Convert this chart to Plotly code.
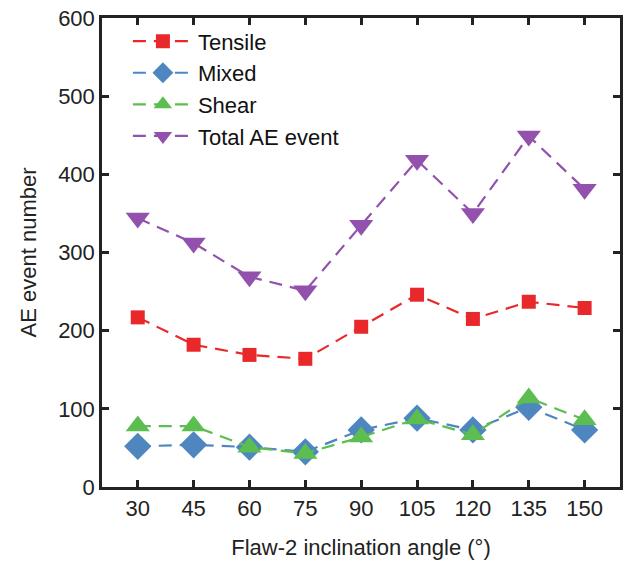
import plotly.graph_objects as go

angles = [30, 45, 60, 75, 90, 105, 120, 135, 150]
tensile = [217, 182, 169, 164, 205, 246, 215, 237, 229]
mixed = [52, 54, 51, 45, 73, 88, 73, 102, 73]
shear = [78, 78, 51, 43, 64, 87, 67, 114, 86]
total = [344, 312, 269, 251, 335, 418, 350, 449, 381]

series = [
    ("Tensile", tensile, "#E8282A", "square", 14),
    ("Mixed", mixed, "#4E86C0", "diamond", 21),
    ("Shear", shear, "#5CBD50", "triangle-up", 21),
    ("Total AE event", total, "#9351AE", "triangle-down", 21),
]

fig = go.Figure()
for name, vals, color, sym, size in series:
    fig.add_trace(go.Scatter(
        x=angles, y=vals, name=name, mode="lines+markers",
        line=dict(color=color, width=2.2, dash="13px,8px"),
        marker=dict(symbol=sym, size=size, color=color, line=dict(width=0)),
    ))

axis_common = dict(
    showline=True, linecolor="#222", linewidth=2.5, mirror="ticks",
    ticks="inside", ticklen=7, tickwidth=2.5, tickcolor="#222",
    showgrid=False, zeroline=False, automargin=False,
    tickfont=dict(size=22, color="#222"),
)

fig.update_layout(
    width=629, height=561,
    margin=dict(l=102, r=9, t=18, b=74),
    paper_bgcolor="white", plot_bgcolor="white",
    font=dict(family="Liberation Sans, Arial, sans-serif", color="#222"),
    xaxis=dict(range=[20.4, 159.5], tickvals=angles,
               title=dict(text="Flaw-2 inclination angle (°)", font=dict(size=22), standoff=20),
               **axis_common),
    yaxis=dict(range=[0, 600], tickvals=[0, 100, 200, 300, 400, 500, 600],
               title=dict(text="AE event number", font=dict(size=22), standoff=16),
               **axis_common),
    legend=dict(x=0.05, y=0.995, xanchor="left", yanchor="top",
                bgcolor="rgba(0,0,0,0)", font=dict(size=22, color="#111"),
                itemwidth=60, tracegroupgap=0),
    showlegend=True,
)

fig.write_html("out.html")
